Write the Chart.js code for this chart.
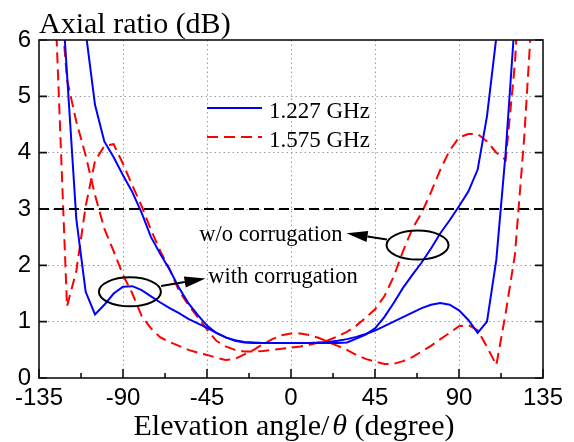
<!DOCTYPE html>
<html><head><meta charset="utf-8">
<script src="https://cdn.jsdelivr.net/npm/chart.js@4"></script>
<style>html,body{margin:0;padding:0;background:#fff;} #wrap{width:574px;height:442px;}</style>
</head><body><div id="wrap"><canvas id="c" width="574" height="442"></canvas></div>
<script>
// ---- data ----
const ANGLES = [-130,-125,-120,-115,-110,-105,-100,-95,-90,-85,-80,-75,-70,-65,-60,-55,-50,-45,-40,-35,-30,-25,-20,-15,-10,-5,0,5,10,15,20,25,30,35,40,45,50,55,60,65,70,75,80,85,90,95,100,105,110,115,120,125,130];
// 1.227 GHz, w/o corrugation
const BLUE_WITHOUT = [null,null,null,7.2,6.15,4.85,4.2,3.92,3.6,3.3,2.93,2.5,2.2,1.92,1.6,1.33,1.12,0.93,0.8,0.72,0.67,0.64,0.63,0.62,0.62,0.62,0.62,0.62,0.62,0.62,0.62,0.62,0.63,0.7,0.77,0.88,1.08,1.33,1.6,1.83,2.05,2.3,2.57,2.8,3.05,3.31,3.7,4.65,6.05,7.5,null,null,null];
// 1.227 GHz, with corrugation
const BLUE_WITH = [null,8.0,5.4,2.82,1.53,1.13,1.3,1.5,1.62,1.63,1.56,1.45,1.34,1.24,1.15,1.05,0.97,0.89,0.8,0.72,0.66,0.63,0.62,0.62,0.62,0.62,0.62,0.62,0.62,0.63,0.64,0.66,0.69,0.73,0.78,0.84,0.92,1.0,1.08,1.16,1.24,1.3,1.33,1.3,1.2,1.03,0.8,1.0,2.1,4.0,6.4,null,null];
// 1.575 GHz, w/o corrugation
const RED_WITHOUT = [9.7,5.55,1.27,1.9,3.05,3.85,4.12,4.15,3.8,3.42,3.05,2.63,2.25,1.93,1.55,1.3,1.08,0.86,0.66,0.56,0.5,0.47,0.47,0.48,0.5,0.52,0.54,0.56,0.59,0.63,0.67,0.74,0.82,0.93,1.07,1.22,1.45,1.8,2.25,2.65,2.93,3.3,3.7,4.04,4.27,4.33,4.33,4.2,4.0,3.87,5.6,8.5,null];
// 1.575 GHz, with corrugation
const RED_WITH = [null,7.4,5.3,4.55,3.95,3.25,2.65,2.25,1.83,1.5,1.1,0.88,0.72,0.64,0.57,0.5,0.45,0.41,0.36,0.32,0.34,0.42,0.5,0.6,0.69,0.76,0.79,0.79,0.76,0.71,0.64,0.57,0.5,0.41,0.34,0.29,0.25,0.25,0.3,0.37,0.47,0.57,0.69,0.8,0.92,0.94,0.85,0.55,0.23,1.15,2.2,4.3,7.0];
const AR_LIMIT = 3;
const X_RANGE = [-135, 135];
const X_TICKS = [-135,-90,-45,0,45,90,135];
const X_MINOR = [-112.5,-67.5,-22.5,22.5,67.5,112.5];
const Y_TICKS = [0,1,2,3,4,5,6];
const LEGEND_LABELS = ['1.227 GHz','1.575 GHz'];
const Y_TITLE = 'Axial ratio (dB)';
const X_TITLE = ['Elevation angle/', '\u03B8', ' (degree)'];
// annotations in data units
const ELLIPSES = [{x:-86.3, y:1.53}, {x:67.8, y:2.36}];
const ARROWS = [{x1:-69.6, y1:1.633, x2:-45.8, y2:1.766}, {x1:51.4, y1:2.459, x2:29.8, y2:2.569}];
const NOTES = [{text:'with corrugation', x:-44.3, y:1.68}, {text:'w/o corrugation', x:-49.1, y:2.437}];

const BLUE = '#0000ff', RED = '#ff0000';
const toXY = arr => ANGLES.map((a,i)=>({x:a, y:arr[i]}));

const deco = {
  id:'deco',
  afterDraw(chart){
    const {ctx, chartArea:a, scales:{x,y}} = chart;
    ctx.save();
    // annotations
    ctx.strokeStyle='#000'; ctx.fillStyle='#000'; ctx.lineWidth=2; ctx.setLineDash([]);
    ELLIPSES.forEach(e=>{
      ctx.beginPath();
      ctx.ellipse(x.getPixelForValue(e.x), y.getPixelForValue(e.y), 31, 14.5, 0, 0, Math.PI*2);
      ctx.stroke();
    });
    ARROWS.forEach(r=>{
      const px1=x.getPixelForValue(r.x1), py1=y.getPixelForValue(r.y1);
      const px2=x.getPixelForValue(r.x2), py2=y.getPixelForValue(r.y2);
      const ang=Math.atan2(py2-py1, px2-px1), L=21, W=5.5;
      const bx=px2-L*Math.cos(ang), by=py2-L*Math.sin(ang);
      ctx.beginPath(); ctx.moveTo(px1,py1); ctx.lineTo(bx,by); ctx.stroke();
      ctx.beginPath(); ctx.moveTo(px2,py2);
      ctx.lineTo(bx+W*Math.sin(ang), by-W*Math.cos(ang));
      ctx.lineTo(bx-W*Math.sin(ang), by+W*Math.cos(ang));
      ctx.closePath(); ctx.fill();
    });
    ctx.font='22.5px "Liberation Serif"'; ctx.textAlign='left'; ctx.textBaseline='alphabetic';
    NOTES.forEach(n=>ctx.fillText(n.text, x.getPixelForValue(n.x), y.getPixelForValue(n.y)));
    // legend
    const lg = [{c:BLUE, d:[], ly:108, ty:117.5},{c:RED, d:[11,6], ly:137, ty:147}];
    lg.forEach((g,i)=>{
      ctx.strokeStyle=g.c; ctx.lineWidth=2; ctx.setLineDash(g.d);
      ctx.beginPath(); ctx.moveTo(207,g.ly); ctx.lineTo(262,g.ly); ctx.stroke();
      ctx.setLineDash([]); ctx.fillStyle='#000'; ctx.font='23px "Liberation Serif"';
      ctx.fillText(LEGEND_LABELS[i], 269, g.ty);
    });
    // frame and inward ticks
    ctx.strokeStyle='#111'; ctx.lineWidth=1.6; ctx.setLineDash([]);
    ctx.strokeRect(a.left, a.top, a.right-a.left, a.bottom-a.top);
    ctx.beginPath();
    X_TICKS.forEach(v=>{const p=x.getPixelForValue(v); ctx.moveTo(p,a.bottom); ctx.lineTo(p,a.bottom-9);});
    X_MINOR.forEach(v=>{const p=x.getPixelForValue(v); ctx.moveTo(p,a.bottom); ctx.lineTo(p,a.bottom-5);});
    Y_TICKS.forEach(v=>{const p=y.getPixelForValue(v); ctx.moveTo(a.left,p); ctx.lineTo(a.left+8,p); ctx.moveTo(a.right,p); ctx.lineTo(a.right-8,p);});
    ctx.stroke();
    // titles
    ctx.fillStyle='#000'; ctx.font='30px "Liberation Serif"'; ctx.textAlign='left';
    ctx.fillText(Y_TITLE, a.left, 33);
    const fN='30px "Liberation Serif"', fI='italic 30px "Liberation Serif"';
    ctx.font=fN; const w0=ctx.measureText(X_TITLE[0]).width, w2=ctx.measureText(X_TITLE[2]).width;
    ctx.font=fI; const w1=ctx.measureText(X_TITLE[1]).width;
    let sx=(a.left+a.right)/2 + 3 - (w0+w1+w2+3)/2;
    ctx.font=fN; ctx.fillText(X_TITLE[0], sx, 435); sx+=w0+3;
    ctx.font=fI; ctx.fillText(X_TITLE[1], sx, 435); sx+=w1;
    ctx.font=fN; ctx.fillText(X_TITLE[2], sx, 435);
    ctx.restore();
  }
};

const gridColor = (edgeVals) => (c) => (c.tick && edgeVals.includes(c.tick.value)) ? 'rgba(0,0,0,0)' : '#9c9c9c';

new Chart(document.getElementById('c'), {
  type:'line',
  data:{ datasets:[
    {data:[{x:X_RANGE[0], y:AR_LIMIT},{x:X_RANGE[1], y:AR_LIMIT}], borderColor:'#000', borderWidth:2, borderDash:[10,5]},
    {data:toXY(BLUE_WITHOUT), borderColor:BLUE, borderWidth:2},
    {data:toXY(BLUE_WITH), borderColor:BLUE, borderWidth:2},
    {data:toXY(RED_WITHOUT), borderColor:RED, borderWidth:2, borderDash:[11,6]},
    {data:toXY(RED_WITH), borderColor:RED, borderWidth:2, borderDash:[11,6]}
  ]},
  options:{
    responsive:false, animation:false, devicePixelRatio:1,
    layout:{padding:{top:40, right:31, left:0, bottom:0}},
    plugins:{legend:{display:false}, tooltip:{enabled:false}},
    elements:{point:{radius:0}, line:{tension:0, fill:false}},
    scales:{
      x:{type:'linear', min:X_RANGE[0], max:X_RANGE[1],
        afterBuildTicks:s=>{s.ticks=X_TICKS.map(v=>({value:v}));},
        afterFit:s=>{s.height=64;},
        ticks:{font:{family:'Liberation Sans', size:24}, color:'#000', padding:6, maxRotation:0, autoSkip:false},
        grid:{color:gridColor([-135,135]), lineWidth:1, drawTicks:false},
        border:{display:false, dash:[1.5,3]}},
      y:{type:'linear', min:0, max:6,
        afterBuildTicks:s=>{s.ticks=Y_TICKS.map(v=>({value:v}));},
        afterFit:s=>{s.width=39;},
        ticks:{font:{family:'Liberation Sans', size:24}, color:'#000', padding:8},
        grid:{color:gridColor([0,6]), lineWidth:1, drawTicks:false},
        border:{display:false, dash:[1.5,3]}}
    }
  },
  plugins:[deco]
});
</script></body></html>
